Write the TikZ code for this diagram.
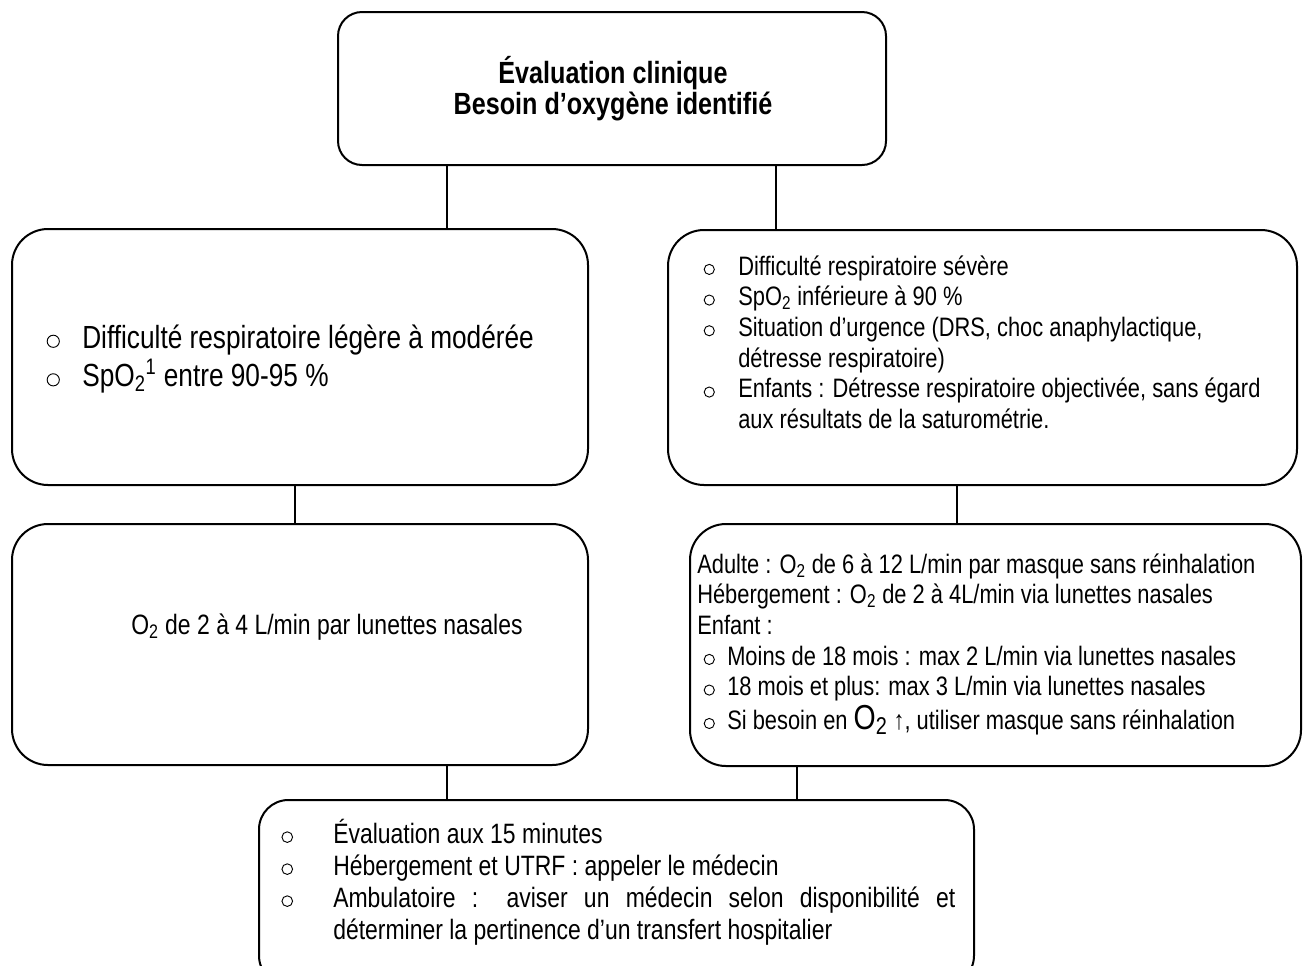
\documentclass[tikz,border=0pt]{standalone}
\usepackage{fontspec}
\setmainfont{Liberation Sans}[FakeStretch=0.82]
\newdimen\px \px=0.75pt
\newcommand\bulc{\tikz[baseline=0pt]\draw[line width=0.7pt] (0pt,0.21em) circle[radius=0.19em];}
\newcommand\bul[1]{\llap{\makebox[0pt]{\bulc}\hspace*{#1\px}}}
\tikzset{
  box/.style={draw, line width=1.5pt, rounded corners=27pt, inner sep=0pt},
  conn/.style={line width=1.2pt},
  txt/.style={inner sep=0pt, anchor=base west},
}
\begin{document}
\begin{tikzpicture}[x=0.75pt,y=-0.75pt]
\clip (0,0) rectangle (1306,965);
% boxes
\node[box, rounded corners=18pt, minimum width=548*0.75pt, minimum height=153*0.75pt] (top) at (612,88.5) {};
\node[box, minimum width=576*0.75pt, minimum height=256*0.75pt] (L1) at (300,357) {};
\node[box, minimum width=629*0.75pt, minimum height=255*0.75pt] (R1) at (982.5,357.5) {};
\node[box, minimum width=576*0.75pt, minimum height=241*0.75pt] (L2) at (300,644.5) {};
\node[box, minimum width=611*0.75pt, minimum height=242*0.75pt] (R2) at (995.5,645) {};
\node[box, rounded corners=22pt, minimum width=715*0.75pt, minimum height=185*0.75pt] (B) at (616.5,892.5) {};
% connectors
\draw[conn] (447,0 |- top.south) -- (447,0 |- L1.north);
\draw[conn] (776,0 |- top.south) -- (776,0 |- R1.north);
\draw[conn] (295,0 |- L1.south) -- (295,0 |- L2.north);
\draw[conn] (957,0 |- R1.south) -- (957,0 |- R2.north);
\draw[conn] (447,0 |- L2.south) -- (447,0 |- B.north);
\draw[conn] (797,0 |- R2.south) -- (797,0 |- B.north);
% texts
\node[txt, anchor=base] (ttl) at (613,83) {\fontsize{23}{22.5}\selectfont\bfseries
  \begin{tabular}[t]{@{}c@{}}Évaluation clinique\\Besoin d’oxygène identifié\end{tabular}};
\node[txt] (l1t) at (82,348) {\fontsize{24}{27.75}\selectfont
  \begin{tabular}[t]{@{}l@{}}
  \bul{29}Difficulté respiratoire légère à modérée\\
  \bul{29}SpO\textsubscript{2}\textsuperscript{1} entre 90-95 \%
  \end{tabular}};
\node[txt] (r1t) at (738,275) {\fontsize{20}{23}\selectfont
  \begin{tabular}[t]{@{}l@{}}
  \bul{29}Difficulté respiratoire sévère\\
  \bul{29}SpO\textsubscript{2} inférieure à 90 \%\\
  \bul{29}Situation d’urgence (DRS, choc anaphylactique,\\
  détresse respiratoire)\\
  \bul{29}Enfants : Détresse respiratoire objectivée, sans égard\\
  aux résultats de la saturométrie.
  \end{tabular}};
\node[txt, anchor=base] (l2t) at (327,634) {\fontsize{21}{25}\selectfont O\textsubscript{2} de 2 à 4 L/min par lunettes nasales};
\node[txt] (r2t) at (697,573) {\fontsize{20}{23}\selectfont
  \begin{tabular}[t]{@{}l@{}}
  Adulte : O\textsubscript{2} de 6 à 12 L/min par masque sans réinhalation\\
  Hébergement : O\textsubscript{2} de 2 à 4L/min via lunettes nasales\\
  Enfant :\\
  \hspace*{30\px}\bul{18}Moins de 18 mois : max 2 L/min via lunettes nasales\\
  \hspace*{30\px}\bul{18}18 mois et plus: max 3 L/min via lunettes nasales\\
  \hspace*{30\px}\bul{18}Si besoin en {\fontsize{26}{23}\selectfont O\textsubscript{2}} ↑, utiliser masque sans réinhalation
  \end{tabular}};
\node[txt] (bt) at (333,843) {\fontsize{21}{24}\selectfont
  \begin{tabular}[t]{@{}l@{}}
  \bul{46}Évaluation aux 15 minutes\\
  \bul{46}Hébergement et UTRF : appeler le médecin\\
  \bul{46}\makebox[622\px][s]{Ambulatoire : aviser un médecin selon disponibilité et}\\
  déterminer la pertinence d’un transfert hospitalier
  \end{tabular}};
\end{tikzpicture}
\end{document}
